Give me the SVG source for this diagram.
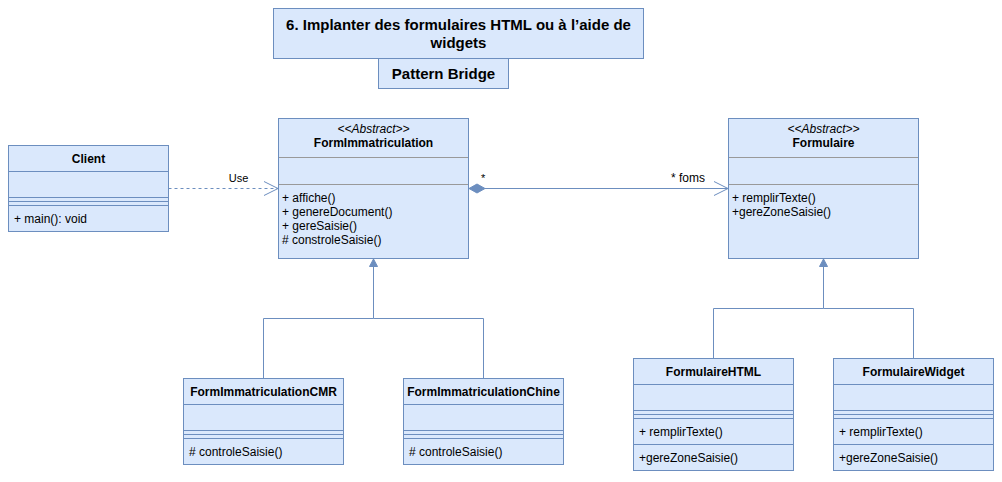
<svg xmlns="http://www.w3.org/2000/svg" width="1002" height="482" viewBox="0 0 1002 482">
<style>
.box{fill:#dae8fc;stroke:#6c8ebf;stroke-width:1}
.ln{stroke:#6c8ebf;stroke-width:1;fill:none}
.gl{stroke:#999999;stroke-width:1;fill:none}
.t{font-family:"Liberation Sans",Arial,sans-serif;font-size:12px;fill:#000}
.b{font-weight:bold}
.i{font-style:italic}
.c{text-anchor:middle}
.title{font-family:"Liberation Sans",Arial,sans-serif;font-size:15px;font-weight:bold;text-anchor:middle;fill:#000}
</style>
<rect width="1002" height="482" fill="#ffffff"/>
<g id="title">
<rect class="box" x="273.5" y="8.5" width="370" height="50"/>
<text class="title" x="458.5" y="30">6. Implanter des formulaires HTML ou à l’aide de</text>
<text class="title" x="458.5" y="48">widgets</text>
</g>
<g id="pattern">
<rect class="box" x="378.5" y="58.5" width="130" height="30"/>
<text class="title" x="443.5" y="79">Pattern Bridge</text>
</g>
<g id="connectors">
<line class="ln" x1="168.5" y1="188.5" x2="277.5" y2="188.5" stroke-dasharray="3,3"/>
<polyline class="ln" points="264,181.5 278,188.5 264,195.5"/>
<text class="t c" x="238.5" y="182" style="font-size:11px">Use</text>
<line class="ln" x1="485" y1="188.5" x2="727.5" y2="188.5"/>
<polygon points="469,188.5 477,184 485,188.5 477,193" fill="#6c8ebf" stroke="#6c8ebf"/>
<polyline class="ln" points="714,181.5 728,188.5 714,195.5"/>
<text class="t" x="481" y="182" style="font-size:11px">*</text>
<text class="t" x="671" y="182">* foms</text>
<polyline class="ln" points="373.5,266 373.5,318.5 263.5,318.5 263.5,378.5"/>
<polyline class="ln" points="373.5,318.5 483.5,318.5 483.5,378.5"/>
<polygon points="373.5,259 377.5,266.5 369.5,266.5" fill="#6c8ebf" stroke="#6c8ebf"/>
<polyline class="ln" points="823.5,266 823.5,308.5 713.5,308.5 713.5,358.5"/>
<polyline class="ln" points="823.5,308.5 913.5,308.5 913.5,358.5"/>
<polygon points="823.5,259 827.5,266.5 819.5,266.5" fill="#6c8ebf" stroke="#6c8ebf"/>
</g>
<g id="Client">
<rect class="box" x="8.5" y="145.5" width="160" height="86"/>
<line class="ln" x1="8.5" y1="171.5" x2="168.5" y2="171.5"/>
<line class="ln" x1="8.5" y1="197.5" x2="168.5" y2="197.5"/>
<line class="ln" x1="8.5" y1="201.5" x2="168.5" y2="201.5"/>
<line class="ln" x1="8.5" y1="205.5" x2="168.5" y2="205.5"/>
<text class="t b c" x="88.5" y="163">Client</text>
<text class="t" x="14" y="223">+ main(): void</text>
</g>
<g id="FormImmatriculation">
<rect class="box" x="278.5" y="118.5" width="190" height="140"/>
<line class="gl" x1="279" y1="157.5" x2="468" y2="157.5"/>
<line class="gl" x1="279" y1="184.5" x2="468" y2="184.5"/>
<text class="t i c" x="373.5" y="133">&lt;&lt;Abstract&gt;&gt;</text>
<text class="t b c" x="373.5" y="147">FormImmatriculation</text>
<text class="t" x="282" y="202">+ affiche()</text>
<text class="t" x="282" y="216">+ genereDocument()</text>
<text class="t" x="282" y="230">+ gereSaisie()</text>
<text class="t" x="282" y="244"># constroleSaisie()</text>
</g>
<g id="Formulaire">
<rect class="box" x="728.5" y="118.5" width="190" height="140"/>
<line class="gl" x1="729" y1="157.5" x2="918" y2="157.5"/>
<line class="gl" x1="729" y1="184.5" x2="918" y2="184.5"/>
<text class="t i c" x="823.5" y="133">&lt;&lt;Abstract&gt;&gt;</text>
<text class="t b c" x="823.5" y="147">Formulaire</text>
<text class="t" x="732" y="202">+ remplirTexte()</text>
<text class="t" x="732" y="216">+gereZoneSaisie()</text>
</g>
<g id="FormImmatriculationCMR">
<rect class="box" x="183.5" y="378.5" width="160" height="86"/>
<line class="ln" x1="183.5" y1="404.5" x2="343.5" y2="404.5"/>
<line class="ln" x1="183.5" y1="430.5" x2="343.5" y2="430.5"/>
<line class="ln" x1="183.5" y1="434.5" x2="343.5" y2="434.5"/>
<line class="ln" x1="183.5" y1="438.5" x2="343.5" y2="438.5"/>
<text class="t b c" x="263.5" y="396">FormImmatriculationCMR</text>
<text class="t" x="189" y="456"># controleSaisie()</text>
</g>
<g id="FormImmatriculationChine">
<rect class="box" x="403.5" y="378.5" width="160" height="86"/>
<line class="ln" x1="403.5" y1="404.5" x2="563.5" y2="404.5"/>
<line class="ln" x1="403.5" y1="430.5" x2="563.5" y2="430.5"/>
<line class="ln" x1="403.5" y1="434.5" x2="563.5" y2="434.5"/>
<line class="ln" x1="403.5" y1="438.5" x2="563.5" y2="438.5"/>
<text class="t b c" x="483.5" y="396">FormImmatriculationChine</text>
<text class="t" x="409" y="456"># controleSaisie()</text>
</g>
<g id="FormulaireHTML">
<rect class="box" x="633.5" y="358.5" width="160" height="112"/>
<line class="ln" x1="633.5" y1="384.5" x2="793.5" y2="384.5"/>
<line class="ln" x1="633.5" y1="410.5" x2="793.5" y2="410.5"/>
<line class="ln" x1="633.5" y1="414.5" x2="793.5" y2="414.5"/>
<line class="ln" x1="633.5" y1="418.5" x2="793.5" y2="418.5"/>
<line class="ln" x1="633.5" y1="444.5" x2="793.5" y2="444.5"/>
<text class="t b c" x="713.5" y="376">FormulaireHTML</text>
<text class="t" x="639" y="436">+ remplirTexte()</text>
<text class="t" x="639" y="462">+gereZoneSaisie()</text>
</g>
<g id="FormulaireWidget">
<rect class="box" x="833.5" y="358.5" width="160" height="112"/>
<line class="ln" x1="833.5" y1="384.5" x2="993.5" y2="384.5"/>
<line class="ln" x1="833.5" y1="410.5" x2="993.5" y2="410.5"/>
<line class="ln" x1="833.5" y1="414.5" x2="993.5" y2="414.5"/>
<line class="ln" x1="833.5" y1="418.5" x2="993.5" y2="418.5"/>
<line class="ln" x1="833.5" y1="444.5" x2="993.5" y2="444.5"/>
<text class="t b c" x="913.5" y="376">FormulaireWidget</text>
<text class="t" x="839" y="436">+ remplirTexte()</text>
<text class="t" x="839" y="462">+gereZoneSaisie()</text>
</g>
</svg>
